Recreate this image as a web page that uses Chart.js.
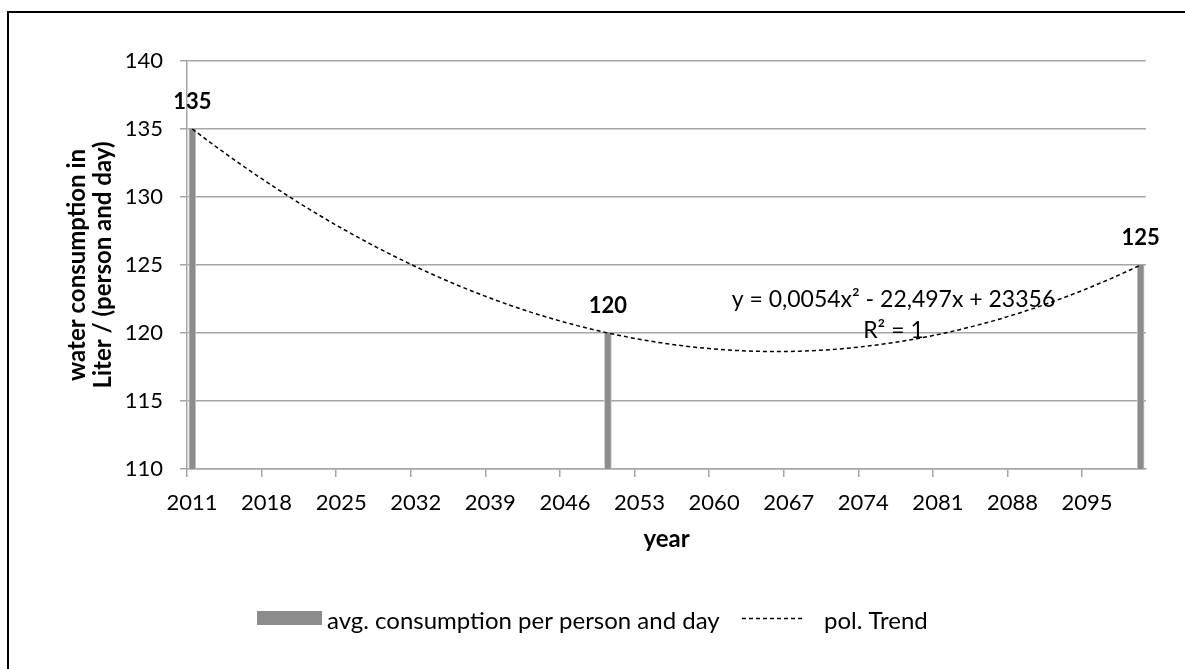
<!DOCTYPE html>
<html>
<head>
<meta charset="utf-8">
<script src="https://cdn.jsdelivr.net/npm/chart.js@4.4.1/dist/chart.umd.min.js"></script>
<style>
  html, body { margin: 0; padding: 0; background: #ffffff; }
  #frame { position: absolute; left: 7px; top: 11px; width: 1400px; height: 900px;
           border-left: 2.5px solid #000; border-top: 2.5px solid #000; }
  #wrap { position: absolute; left: 0; top: 0; width: 1185px; height: 669px; }
</style>
</head>
<body>
<div id="frame"></div>
<div id="wrap"><canvas id="chart" width="1185" height="669"></canvas></div>
<script>
// --- data -------------------------------------------------------------
const years = [2011, 2050, 2100];
const consumption = [135, 120, 125];
const yearTicks = [2011, 2018, 2025, 2032, 2039, 2046, 2053, 2060, 2067, 2074, 2081, 2088, 2095];
const valueTicks = [110, 115, 120, 125, 130, 135, 140];
const seriesNames = ['avg. consumption per person and day', 'pol. Trend'];
const trendEquation = ['y = 0,0054x² - 22,497x + 23356', 'R² = 1'];
const yTitle = ['water consumption in', 'Liter / (person and day)'];
const xTitle = 'year';

// --- helpers ----------------------------------------------------------
const FONT = "Lato, 'Open Sans', sans-serif";
const GRID = '#a6a6a6';
// each year is one slot on the date axis; marks sit in the middle of their slot
const SLOT_MID = 0.5;

// least-squares parabola of the consumption values (the "pol. Trend" line)
function quadFit(xs, ys) {
  const x0 = xs[0];
  const S = [0, 0, 0, 0, 0], T = [0, 0, 0];
  xs.forEach((x, i) => {
    const t = x - x0;
    for (let k = 0; k < 5; k++) S[k] += Math.pow(t, k);
    for (let k = 0; k < 3; k++) T[k] += ys[i] * Math.pow(t, k);
  });
  const det3 = m => m[0][0] * (m[1][1] * m[2][2] - m[1][2] * m[2][1])
                  - m[0][1] * (m[1][0] * m[2][2] - m[1][2] * m[2][0])
                  + m[0][2] * (m[1][0] * m[2][1] - m[1][1] * m[2][0]);
  const A = [[S[0], S[1], S[2]], [S[1], S[2], S[3]], [S[2], S[3], S[4]]];
  const D = det3(A);
  const c = [0, 1, 2].map(j => det3(A.map((row, r) => row.map((v, k) => (k === j ? T[r] : v)))) / D);
  return x => c[0] + c[1] * (x - x0) + c[2] * (x - x0) * (x - x0);
}
const trend = quadFit(years, consumption);
const trendPoints = [];
for (let yr = years[0]; yr <= years[years.length - 1]; yr++) {
  trendPoints.push({ x: yr + SLOT_MID, y: trend(yr) });
}

// value labels above the bars, trend equation, and the legend
const annotate = {
  id: 'annotate',
  afterDatasetsDraw(chart) {
    const { ctx, scales: { x, y } } = chart;
    ctx.save();
    ctx.fillStyle = '#000';
    ctx.textAlign = 'center';
    ctx.textBaseline = 'alphabetic';
    ctx.font = `bold 22px ${FONT}`;
    chart.getDatasetMeta(0).data.forEach((bar, i) => {
      ctx.fillText(String(consumption[i]), bar.x, bar.y - 20);
    });

    ctx.font = `23px ${FONT}`;
    const ex = x.getPixelForValue(2077.3);
    const ey = y.getPixelForValue(121.9);
    ctx.fillText(trendEquation[0], ex, ey);
    ctx.fillText(trendEquation[1], ex, ey + 31);

    // legend
    ctx.textAlign = 'left';
    ctx.font = `24px ${FONT}`;
    ctx.fillStyle = '#8c8c8c';
    ctx.fillRect(257, 611, 65, 14);
    ctx.fillStyle = '#000';
    ctx.fillText(seriesNames[0], 327, 629);
    ctx.strokeStyle = '#000';
    ctx.lineWidth = 1.5;
    ctx.setLineDash([4, 3]);
    ctx.beginPath();
    ctx.moveTo(742, 618.5);
    ctx.lineTo(802, 618.5);
    ctx.stroke();
    ctx.setLineDash([]);
    ctx.fillText(seriesNames[1], 824, 629);
    ctx.restore();
  }
};

new Chart(document.getElementById('chart'), {
  type: 'bar',
  data: {
    datasets: [
      {
        type: 'bar',
        label: seriesNames[0],
        data: years.map((yr, i) => ({ x: yr + SLOT_MID, y: consumption[i] })),
        backgroundColor: '#8c8c8c',
        borderColor: '#c8c8c8',
        borderWidth: { left: 1, right: 1, top: 0, bottom: 0 },
        barThickness: 7,
        order: 2
      },
      {
        type: 'line',
        label: seriesNames[1],
        data: trendPoints,
        borderColor: '#000',
        borderWidth: 1.5,
        borderDash: [4, 3],
        pointRadius: 0,
        tension: 0,
        fill: false,
        order: 1
      }
    ]
  },
  options: {
    responsive: false,
    animation: false,
    layout: { padding: { left: 56, right: 39, top: 61, bottom: 100 } },
    plugins: { legend: { display: false }, tooltip: { enabled: false } },
    scales: {
      x: {
        type: 'linear',
        min: years[0],
        max: years[years.length - 1] + 1,
        offset: false,
        afterBuildTicks: s => { s.ticks = yearTicks.map(v => ({ value: v })); },
        afterFit: s => { s.height = 100; },
        grid: { drawOnChartArea: false, drawTicks: true, tickLength: 8, color: GRID, lineWidth: 1.5, offset: false },
        border: { color: GRID, width: 1.5 },
        ticks: {
          font: { family: FONT, size: 22 }, color: '#000', padding: 13, labelOffset: 5,
          maxRotation: 0, autoSkip: false, callback: v => String(v)
        },
        title: {
          display: true, text: xTitle, color: '#000',
          font: { family: FONT, size: 24, weight: 'bold' }, padding: { top: 0, bottom: 15 }
        }
      },
      y: {
        min: valueTicks[0],
        max: valueTicks[valueTicks.length - 1],
        afterBuildTicks: s => { s.ticks = valueTicks.map(v => ({ value: v })); },
        afterFit: s => { s.width = 187 - 56; },
        grid: { color: GRID, lineWidth: 1.5, tickLength: 7 },
        border: { color: GRID, width: 1.5 },
        ticks: { font: { family: FONT, size: 22 }, color: '#000', padding: 17, callback: v => String(v) },
        title: {
          display: true, text: yTitle, color: '#000',
          font: { family: FONT, size: 24, weight: 'bold', lineHeight: 26 / 24 }, padding: { top: 8, bottom: 0 }
        }
      }
    }
  },
  plugins: [annotate]
});
</script>
</body>
</html>
